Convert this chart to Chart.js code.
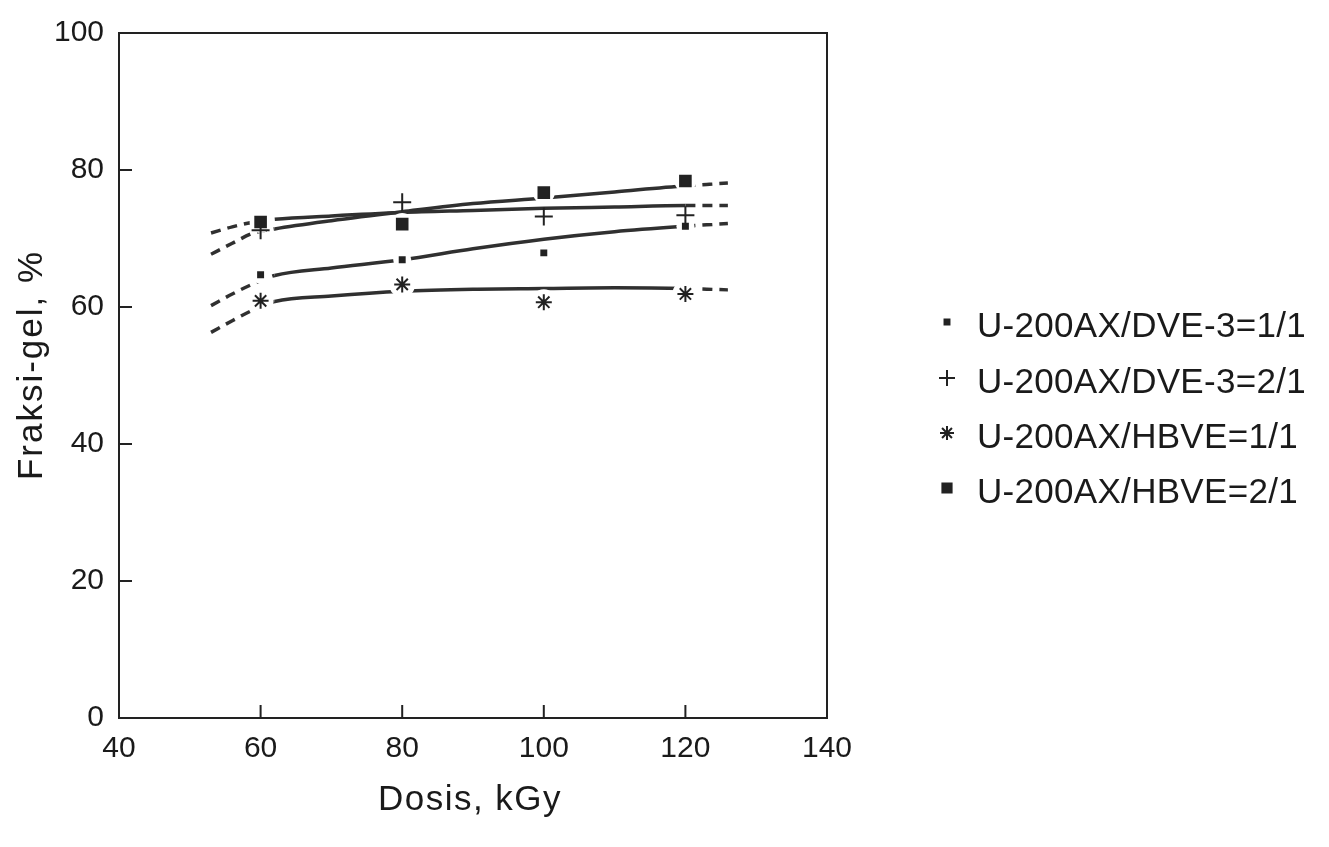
<!DOCTYPE html>
<html>
<head>
<meta charset="utf-8">
<script src="https://cdn.jsdelivr.net/npm/chart.js@4.4.0/dist/chart.umd.min.js"></script>
<style>
  html, body { margin: 0; background: #fff; }
  #wrap { width: 1329px; height: 847px; }
</style>
</head>
<body>
<div id="wrap"><canvas id="myChart"></canvas></div>
<script>
// measured points
const doses = [60, 80, 100, 120];
const dve11 = [64.7, 66.9, 67.9, 71.8];
const dve21 = [71.2, 75.3, 73.2, 73.4];
const hbve11 = [60.9, 63.3, 60.7, 61.9];
const hbve21 = [72.4, 72.1, 76.7, 78.4];

// fitted curves
const fitDoses = [53, 56, 59, 62, 70, 80, 90, 100, 110, 120, 123, 126];
const fitDve11 = [60.2, 61.9, 63.4, 64.6, 65.7, 66.9, 68.5, 69.9, 71.0, 71.8, 72.0, 72.2];
const fitDve21 = [70.8, 71.7, 72.4, 72.8, 73.3, 73.8, 74.1, 74.4, 74.6, 74.8, 74.8, 74.8];
const fitHbve11 = [56.3, 58.0, 59.6, 60.8, 61.6, 62.3, 62.6, 62.7, 62.8, 62.7, 62.6, 62.5];
const fitHbve21 = [67.7, 69.3, 70.8, 71.4, 72.6, 73.9, 75.1, 75.9, 76.8, 77.7, 77.9, 78.1];

const seriesNames = ['U-200AX/DVE-3=1/1', 'U-200AX/DVE-3=2/1', 'U-200AX/HBVE=1/1', 'U-200AX/HBVE=2/1'];
const xTicks = [60, 80, 100, 120];
const yTicks = [20, 40, 60, 80];

const ink = '#222';
const textInk = '#1a1a1a';
const font = '"Liberation Sans", Arial, sans-serif';
// gap = white clearance drawn under a marker so the curve breaks there
const markers = [
    { style: 'rect', radius: 3.5, legendRadius: 3.5, gap: 9 },
    { style: 'cross', radius: 9, legendRadius: 8, gap: 0 },
    { style: 'star', radius: 8, legendRadius: 7, gap: 13 },
    { style: 'rect', radius: 7.5, legendRadius: 6.5, gap: 11 },
];

function pts(xs, ys) {
    return xs.map((x, i) => ({ x: x, y: ys[i] }));
}

function fitSet(ys) {
    return {
        type: 'line',
        data: pts(fitDoses, ys),
        borderColor: '#303030',
        borderWidth: 3.5,
        pointRadius: 0,
        cubicInterpolationMode: 'monotone',
        segment: {
            borderDash: ctx => (ctx.p0.parsed.x < 60 || ctx.p1.parsed.x > 120) ? [10, 7] : undefined
        }
    };
}

function gapSet(ys, m) {
    return {
        type: 'scatter',
        data: pts(doses, ys),
        pointStyle: 'circle',
        pointRadius: m.gap,
        pointBorderWidth: 0,
        pointBackgroundColor: '#ffffff',
        pointBorderColor: '#ffffff',
    };
}

function markSet(ys, m) {
    return {
        type: 'scatter',
        data: pts(doses, ys),
        pointStyle: m.style,
        pointRadius: m.radius,
        pointBorderWidth: 2,
        pointBackgroundColor: ink,
        pointBorderColor: ink,
    };
}

const frameAndText = {
    id: 'frameAndText',
    afterDraw(chart) {
        const { ctx, chartArea: a, scales: { x, y } } = chart;
        ctx.save();
        ctx.strokeStyle = ink;
        ctx.lineWidth = 2;
        ctx.strokeRect(a.left, a.top, a.right - a.left, a.bottom - a.top);
        ctx.beginPath();
        xTicks.forEach(v => {
            const px = x.getPixelForValue(v);
            ctx.moveTo(px, a.bottom);
            ctx.lineTo(px, a.bottom - 13);
        });
        yTicks.forEach(v => {
            const py = y.getPixelForValue(v);
            ctx.moveTo(a.left, py);
            ctx.lineTo(a.left + 13, py);
        });
        ctx.stroke();

        ctx.fillStyle = textInk;
        ctx.font = '35px ' + font;
        ctx.letterSpacing = '1.5px';
        ctx.textAlign = 'center';
        ctx.textBaseline = 'middle';
        ctx.fillText('Dosis, kGy', 470, 800);

        ctx.save();
        ctx.translate(32, 365);
        ctx.rotate(-Math.PI / 2);
        ctx.letterSpacing = '2px';
        ctx.fillText('Fraksi-gel, %', 0, 0);
        ctx.restore();

        // legend
        const rows = [327, 383, 438, 493];
        ctx.textAlign = 'left';
        ctx.letterSpacing = '0.3px';
        seriesNames.forEach((name, i) => {
            const m = markers[i];
            ctx.fillStyle = ink;
            ctx.strokeStyle = ink;
            ctx.lineWidth = 2;
            Chart.helpers.drawPoint(ctx, { pointStyle: m.style, radius: m.legendRadius, rotation: 0, borderWidth: 2 }, 947, rows[i] - 5);
            ctx.fillStyle = textInk;
            ctx.fillText(name, 977, rows[i]);
        });
        ctx.restore();
    }
};

const ctx = document.getElementById('myChart').getContext('2d');
const series = [dve11, dve21, hbve11, hbve21];
const fits = [fitDve11, fitDve21, fitHbve11, fitHbve21];
// first dataset is painted last: markers on top, then the white gaps, then curves
const fractionChart = new Chart(ctx, {
    type: 'scatter',
    data: {
        datasets: [
            ...series.map((s, i) => markSet(s, markers[i])),
            ...series.map((s, i) => gapSet(s, markers[i])),
            ...fits.map(f => fitSet(f)),
        ]
    },
    options: {
        responsive: true,
        maintainAspectRatio: false,
        animation: false,
        layout: { padding: { left: 0, top: 3, right: 502, bottom: 0 } },
        plugins: { legend: { display: false }, tooltip: { enabled: false } },
        scales: {
            x: {
                type: 'linear', min: 40, max: 140,
                grid: { display: false, drawTicks: false },
                border: { display: false },
                ticks: { stepSize: 20, padding: 13, color: textInk, font: { family: font, size: 30 } },
                afterFit: scale => { scale.height = 129; }
            },
            y: {
                min: 0, max: 100,
                grid: { display: false, drawTicks: false },
                border: { display: false },
                ticks: { stepSize: 20, padding: 15, color: textInk, font: { family: font, size: 30 } },
                afterFit: scale => { scale.width = 119; }
            }
        }
    },
    plugins: [frameAndText]
});
</script>
</body>
</html>
